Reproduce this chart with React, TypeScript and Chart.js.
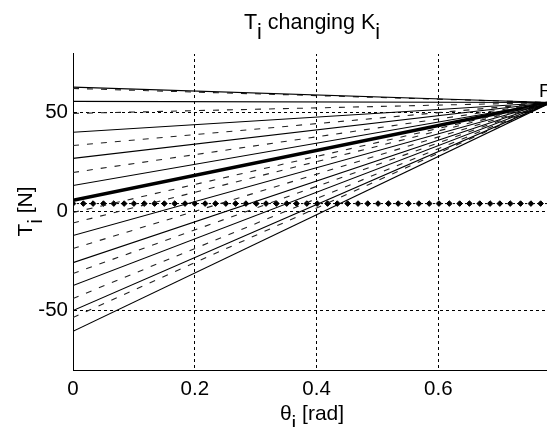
import { useEffect, useRef } from "react";
import { Chart, registerables } from "chart.js";

Chart.register(...registerables);

// ---- data ----
const xEnd = 0.785; // all lines meet at theta = pi/4
const meetY = 55; // force F
const solidStarts = [62.8, 55.6, 40, 26.8, 13.1, -12.1, -25.8, -37.4, -50, -60.5];
const dashedStarts = [62.1, 49.5, 33.3, 19.7, -0.5, -5.8, -18.7, -31.3, -43.9, -53.5];
const thickStart = 5.6;
const diamondX = [
  0, 0.017, 0.033, 0.05, 0.067, 0.084, 0.1, 0.117, 0.134, 0.15, 0.167, 0.184,
  0.2, 0.217, 0.234, 0.251, 0.267, 0.284, 0.301, 0.317, 0.334, 0.351, 0.367, 0.384,
  0.401, 0.418, 0.434, 0.451, 0.468, 0.484, 0.501, 0.518, 0.534, 0.551, 0.568, 0.585,
  0.601, 0.618, 0.635, 0.651, 0.668, 0.685, 0.701, 0.718, 0.735, 0.752, 0.768, 0.785,
];
const diamondY = [
  4, 4, 4, 4, 4, 4, 4, 4, 4, 4, 4, 4,
  4, 4, 4, 4, 4, 4, 4, 4, 4, 4, 4, 4,
  4, 4, 4, 4, 4, 4, 4, 4, 4, 4, 4, 4,
  4, 4, 4, 4, 4, 4, 4, 4, 4, 4, 4, 4,
];
const xTickValues = [0, 0.2, 0.4, 0.6];
const yTickValues = [-50, 0, 50];
const xRange = [0, 0.785];
const yRange = [-80, 80];

type Run = [string, boolean];
const titleRuns: Run[] = [["T", false], ["i", true], [" changing K", false], ["i", true]];
const xTitleRuns: Run[] = [["θ", false], ["i", true], [" [rad]", false]];
const yTitleRuns: Run[] = [["T", false], ["i", true], [" [N]", false]];
const pointLabel = "F";

const FONT = "'Liberation Sans', Arial, Helvetica, sans-serif";
const INK = "#000";

function drawRuns(ctx: CanvasRenderingContext2D, runs: Run[], cx: number, baseline: number, size: number, drop: number) {
  ctx.font = `${size}px ${FONT}`;
  const total = runs.reduce((s, r) => s + ctx.measureText(r[0]).width, 0);
  let x = cx - total / 2;
  ctx.textAlign = "left";
  ctx.textBaseline = "alphabetic";
  for (const [t, sub] of runs) {
    ctx.fillText(t, x, baseline + (sub ? drop : 0));
    x += ctx.measureText(t).width;
  }
}

const textPlugin = {
  id: "mathTexts",
  beforeDatasetsDraw(chart: any) {
    // no top box edge in the reference (MATLAB "box off")
    const ctx = chart.ctx as CanvasRenderingContext2D;
    const { chartArea } = chart;
    ctx.save();
    ctx.fillStyle = "#fff";
    ctx.fillRect(chartArea.left + 1, chartArea.top - 2, chartArea.right - chartArea.left + 4, 3);
    ctx.restore();
  },
  afterDraw(chart: any) {
    const ctx = chart.ctx as CanvasRenderingContext2D;
    const { chartArea, scales } = chart;
    const cx = (chartArea.left + chartArea.right) / 2;
    ctx.save();
    ctx.fillStyle = INK;
    drawRuns(ctx, titleRuns, cx, 29, 21.5, 10);
    drawRuns(ctx, xTitleRuns, cx, 420, 21, 10);
    ctx.save();
    ctx.translate(32, (chartArea.top + chartArea.bottom) / 2);
    ctx.rotate(-Math.PI / 2);
    drawRuns(ctx, yTitleRuns, 0, 0, 21, 10);
    ctx.restore();
    ctx.font = `19px ${FONT}`;
    ctx.textAlign = "left";
    ctx.textBaseline = "alphabetic";
    const px = scales.x.getPixelForValue(xEnd) - 12;
    const py = scales.y.getPixelForValue(meetY) - 6;
    ctx.fillText(pointLabel, px, py);
    ctx.restore();
  },
};

const CLEAR = "rgba(0,0,0,0)";

export default function App() {
  const ref = useRef<HTMLCanvasElement | null>(null);
  useEffect(() => {
    if (!ref.current) return;
    const line = (start: number, dashed: boolean) => ({
      data: [
        { x: 0, y: start },
        { x: xEnd, y: meetY },
      ],
      borderColor: dashed ? "#222" : INK,
      borderWidth: 1.1,
      borderDash: dashed ? [6, 8] : [],
      pointRadius: 0,
      fill: false,
    });
    const datasets: any[] = [];
    solidStarts.forEach((s) => datasets.push(line(s, false)));
    dashedStarts.forEach((s) => datasets.push(line(s, true)));
    datasets.push({
      data: diamondX.map((x, i) => ({ x, y: diamondY[i] })),
      borderColor: INK,
      backgroundColor: INK,
      borderWidth: 1,
      borderDash: [2, 2],
      pointStyle: "rectRot",
      pointRadius: 2.8,
      pointBorderWidth: 1,
      fill: false,
    });
    datasets.push({
      data: [
        { x: 0, y: thickStart },
        { x: xEnd, y: meetY },
      ],
      borderColor: INK,
      borderWidth: 3.5,
      pointRadius: 0,
      fill: false,
    });
    const tickFont = { family: FONT, size: 20.5 };
    const chart = new Chart(ref.current, {
      type: "line",
      data: { datasets },
      plugins: [textPlugin],
      options: {
        responsive: false,
        animation: false,
        events: [],
        layout: { padding: { top: 53, right: 4, left: 0, bottom: 0 } },
        plugins: { legend: { display: false }, tooltip: { enabled: false }, title: { display: false } },
        scales: {
          x: {
            type: "linear",
            min: xRange[0],
            max: xRange[1],
            afterBuildTicks: (s: any) => {
              s.ticks = xTickValues.map((value) => ({ value }));
            },
            afterFit: (s: any) => {
              s.height = 57;
            },
            ticks: { color: INK, font: tickFont, padding: 7, maxRotation: 0, autoSkip: false, callback: (v: any) => String(v) },
            grid: {
              color: (c: any) => (c.tick && xTickValues.indexOf(c.tick.value) > 0 ? INK : CLEAR),
              lineWidth: 1,
              drawTicks: false,
            },
            border: { display: true, color: INK, width: 1, dash: [3, 3] },
          },
          y: {
            type: "linear",
            min: yRange[0],
            max: yRange[1],
            afterBuildTicks: (s: any) => {
              s.ticks = yTickValues.map((value) => ({ value }));
            },
            afterFit: (s: any) => {
              s.width = 73;
            },
            ticks: { color: INK, font: tickFont, padding: 5, autoSkip: false, callback: (v: any) => String(v) },
            grid: {
              color: (c: any) => (c.tick && yTickValues.indexOf(c.tick.value) >= 0 ? INK : CLEAR),
              lineWidth: 1,
              drawTicks: false,
            },
            border: { display: true, color: INK, width: 1, dash: [3, 3] },
          },
        },
      },
    } as any);
    return () => chart.destroy();
  }, []);
  return (
    <div style={{ position: "fixed", left: 0, top: 0, width: 547, height: 427, overflow: "hidden", background: "#fff" }}>
      <canvas ref={ref} width={556} height={427} style={{ display: "block", width: 556, height: 427 }} />
    </div>
  );
}
